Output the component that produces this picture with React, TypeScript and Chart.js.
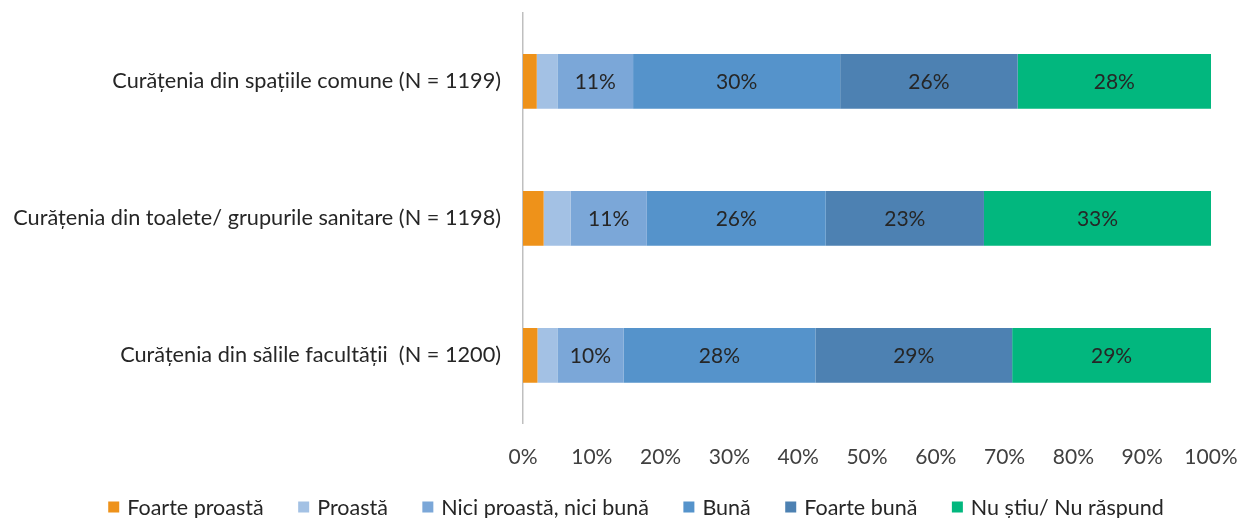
import React, { useEffect, useRef } from "react";
import { Chart, registerables } from "chart.js";

Chart.register(...registerables);

const categories = [
  "Curățenia din spațiile comune (N = 1199)",
  "Curățenia din toalete/ grupurile sanitare (N = 1198)",
  "Curățenia din sălile facultății  (N = 1200)",
];
const seriesNames = [
  "Foarte proastă",
  "Proastă",
  "Nici proastă, nici bună",
  "Bună",
  "Foarte bună",
  "Nu știu/ Nu răspund",
];
const foarteProasta = [2.0, 3.0, 2.1];
const proasta = [3.0, 3.9, 2.9];
const niciNici = [11.0, 11.1, 9.6];
const buna = [30.1, 26.0, 27.9];
const foarteBuna = [25.8, 23.0, 28.6];
const nuStiu = [28.1, 33.0, 28.9];
const xTicks = [0, 10, 20, 30, 40, 50, 60, 70, 80, 90, 100];
const labeledSeries = [2, 3, 4, 5];

const colors = ["#EE921A", "#A3C1E4", "#7BA7D8", "#5593CB", "#4D81B2", "#02B77E"];
const FONT = "Lato, 'Open Sans', sans-serif";

const labelPlugin = {
  id: "barLabels",
  afterDatasetsDraw(chart: any) {
    const ctx = chart.ctx;
    ctx.save();
    ctx.font = `21px ${FONT}`;
    ctx.fillStyle = "#262626";
    ctx.textAlign = "center";
    ctx.textBaseline = "middle";
    chart.data.datasets.forEach((ds: any, i: number) => {
      if (!labeledSeries.includes(i)) return;
      const meta = chart.getDatasetMeta(i);
      meta.data.forEach((bar: any, j: number) => {
        const v = ds.data[j];
        const cx = (bar.x + bar.base) / 2;
        ctx.fillText(Math.round(v) + "%", cx, bar.y + 1);
      });
    });
    ctx.restore();
  },
};

const legendPlugin = {
  id: "bottomLegend",
  afterDraw(chart: any) {
    const ctx = chart.ctx;
    ctx.save();
    ctx.font = `21.5px ${FONT}`;
    ctx.textBaseline = "middle";
    ctx.textAlign = "left";
    const box = 11;
    const textGap = 8;
    const itemGap = 34.5;
    const widths = seriesNames.map((n) => box + textGap + ctx.measureText(n).width);
    const total = widths.reduce((a, b) => a + b, 0) + itemGap * (seriesNames.length - 1);
    let x = 636 - total / 2;
    const y = 507;
    seriesNames.forEach((n, i) => {
      ctx.fillStyle = colors[i];
      ctx.fillRect(x, y - box / 2, box, box);
      ctx.fillStyle = "#262626";
      ctx.fillText(n, x + box + textGap, y + 1);
      x += widths[i] + itemGap;
    });
    ctx.restore();
  },
};

export default function App() {
  const ref = useRef<HTMLCanvasElement>(null);
  useEffect(() => {
    document.body.style.margin = "0";
    const values = [foarteProasta, proasta, niciNici, buna, foarteBuna, nuStiu];
    const chart = new Chart(ref.current!, {
      type: "bar",
      data: {
        labels: categories,
        datasets: seriesNames.map((name, i) => ({
          label: name,
          data: values[i],
          backgroundColor: colors[i],
          borderWidth: 0,
          barPercentage: 0.4,
          categoryPercentage: 1,
        })),
      },
      options: {
        indexAxis: "y",
        animation: false,
        responsive: false,
        layout: { padding: { top: 12, bottom: 48, left: 0, right: 29 } },
        scales: {
          x: {
            stacked: true,
            min: 0,
            max: 100,
            afterBuildTicks: (scale: any) => {
              scale.ticks = xTicks.map((v) => ({ value: v }));
            },
            grid: { display: false, drawTicks: true, tickLength: 21 },
            border: { display: false },
            ticks: {
              padding: 0,
              color: "#404040",
              font: { family: FONT, size: 21 },
              callback: (v: any) => v + "%",
            },
          },
          y: {
            stacked: true,
            grid: { display: false, drawTicks: true, tickLength: 22 },
            border: { display: true, color: "#bfbfbf", width: 1.5, dash: [3, 2] },
            afterFit: (scale: any) => {
              scale.width = 523;
            },
            ticks: {
              padding: 0,
              color: "#262626",
              font: { family: FONT, size: 21.7 },
            },
          },
        },
        plugins: {
          legend: { display: false },
          tooltip: { enabled: false },
        },
      },
      plugins: [labelPlugin, legendPlugin],
    } as any);
    return () => chart.destroy();
  }, []);
  return <canvas ref={ref} width={1240} height={518} style={{ display: "block" }} />;
}
